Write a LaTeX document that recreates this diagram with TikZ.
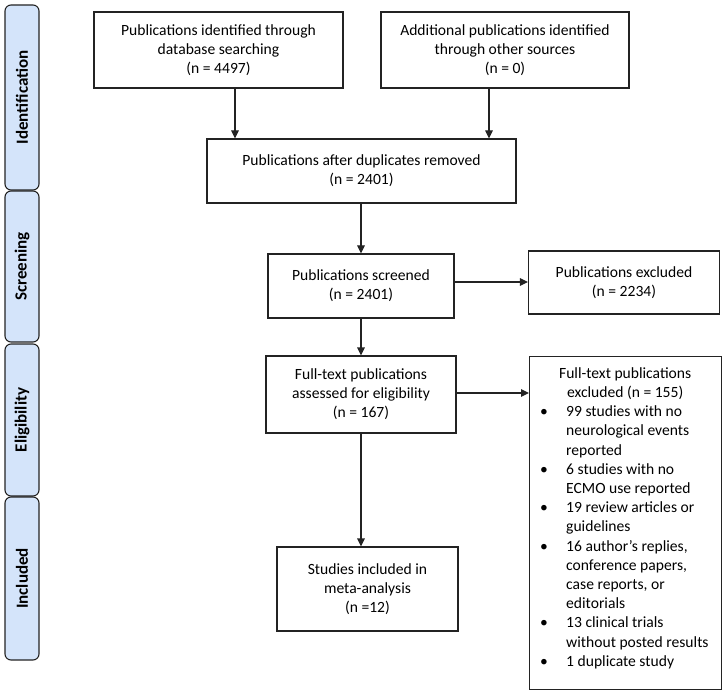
\documentclass[tikz,border=0pt]{standalone}
\usepackage{fontspec}
\setmainfont{Carlito}
\usetikzlibrary{arrows.meta}
\definecolor{phasefill}{RGB}{212,228,250}
\definecolor{linecol}{RGB}{35,35,35}
\begin{document}
\begin{tikzpicture}[x=1pt,y=-1pt,
  box/.style={draw=linecol, line width=1.1pt, fill=white, align=center, inner sep=2pt,
     font=\fontsize{15.6}{19}\selectfont},
  phasebox/.style={draw=linecol, line width=1.1pt, fill=phasefill, rounded corners=6pt,
     rotate=90, minimum height=34pt, inner sep=0pt,
     font=\fontsize{17}{20}\selectfont\bfseries},
  arr/.style={draw=linecol, line width=1.1pt, -{Triangle[length=8pt,width=7.5pt]}}]
\useasboundingbox (0,0) rectangle (726,695);

% phase bars
\node[phasebox, minimum width=185pt] (pid) at (22,97.5) {Identification};
\node[phasebox, minimum width=151pt] (psc) at (22,266.5) {Screening};
\node[phasebox, minimum width=152pt] (pel) at (22,420) {Eligibility};
\node[phasebox, minimum width=163pt] (pin) at (22,578.5) {Included};

% boxes
\node[box, minimum width=249pt, minimum height=76pt] (db) at (218.5,50)
  {Publications identified through\\database searching\\(n = 4497)};
\node[box, minimum width=248pt, minimum height=76pt] (other) at (505,50)
  {Additional publications identified\\through other sources\\(n = 0)};
\node[box, minimum width=309pt, minimum height=64pt] (dup) at (361.5,171)
  {Publications after duplicates removed\\(n = 2401)};
\node[box, minimum width=186pt, minimum height=64pt] (scr) at (361,286)
  {Publications screened\\(n = 2401)};
\node[box, minimum width=191pt, minimum height=63pt] (exc) at (624,282.5)
  {Publications excluded\\(n = 2234)};
\node[box, minimum width=190pt, minimum height=77pt] (full) at (361,394.5)
  {Full-text publications\\assessed for eligibility\\(n = 167)};
\node[box, minimum width=181pt, minimum height=84pt] (inc) at (367.5,589)
  {Studies included in\\meta-analysis\\(n =12)};
\node[box, minimum width=192pt, minimum height=333pt, anchor=north west] (fexc) at (529,356) {};
\node[anchor=north west, inner sep=0pt, font=\fontsize{15.6}{19.2}\selectfont] (fexctext) at (529,364.6) {%
\begin{tabular}{@{}p{37pt}@{}p{155pt}@{}}
\multicolumn{2}{@{}c@{}}{Full-text publications}\\
\multicolumn{2}{@{}c@{}}{excluded (n = 155)}\\
\hspace*{11pt}\textbullet & 99 studies with no\\
 & neurological events\\
 & reported\\
\hspace*{11pt}\textbullet & 6 studies with no\\
 & ECMO use reported\\
\hspace*{11pt}\textbullet & 19 review articles or\\
 & guidelines\\
\hspace*{11pt}\textbullet & 16 author’s replies,\\
 & conference papers,\\
 & case reports, or\\
 & editorials\\
\hspace*{11pt}\textbullet & 13 clinical trials\\
 & without posted results\\
\hspace*{11pt}\textbullet & 1 duplicate study\\
\end{tabular}};

% connectors
\draw[arr] ([xshift=16.5pt]db.south) -- ([xshift=16.5pt]db.south |- dup.north);
\draw[arr] ([xshift=-16pt]other.south) -- ([xshift=-16pt]other.south |- dup.north);
\draw[arr] (dup.south -| scr.north) -- (scr.north);
\draw[arr] ([yshift=4pt]scr.east) -- ([yshift=4pt]scr.east -| exc.west);
\draw[arr] (scr.south) -- (scr.south |- full.north);
\draw[arr] ([yshift=1.5pt]full.east) -- ([yshift=1.5pt]full.east -| fexc.west);
\draw[arr] (full.south) -- (full.south |- inc.north);
\end{tikzpicture}
\end{document}
